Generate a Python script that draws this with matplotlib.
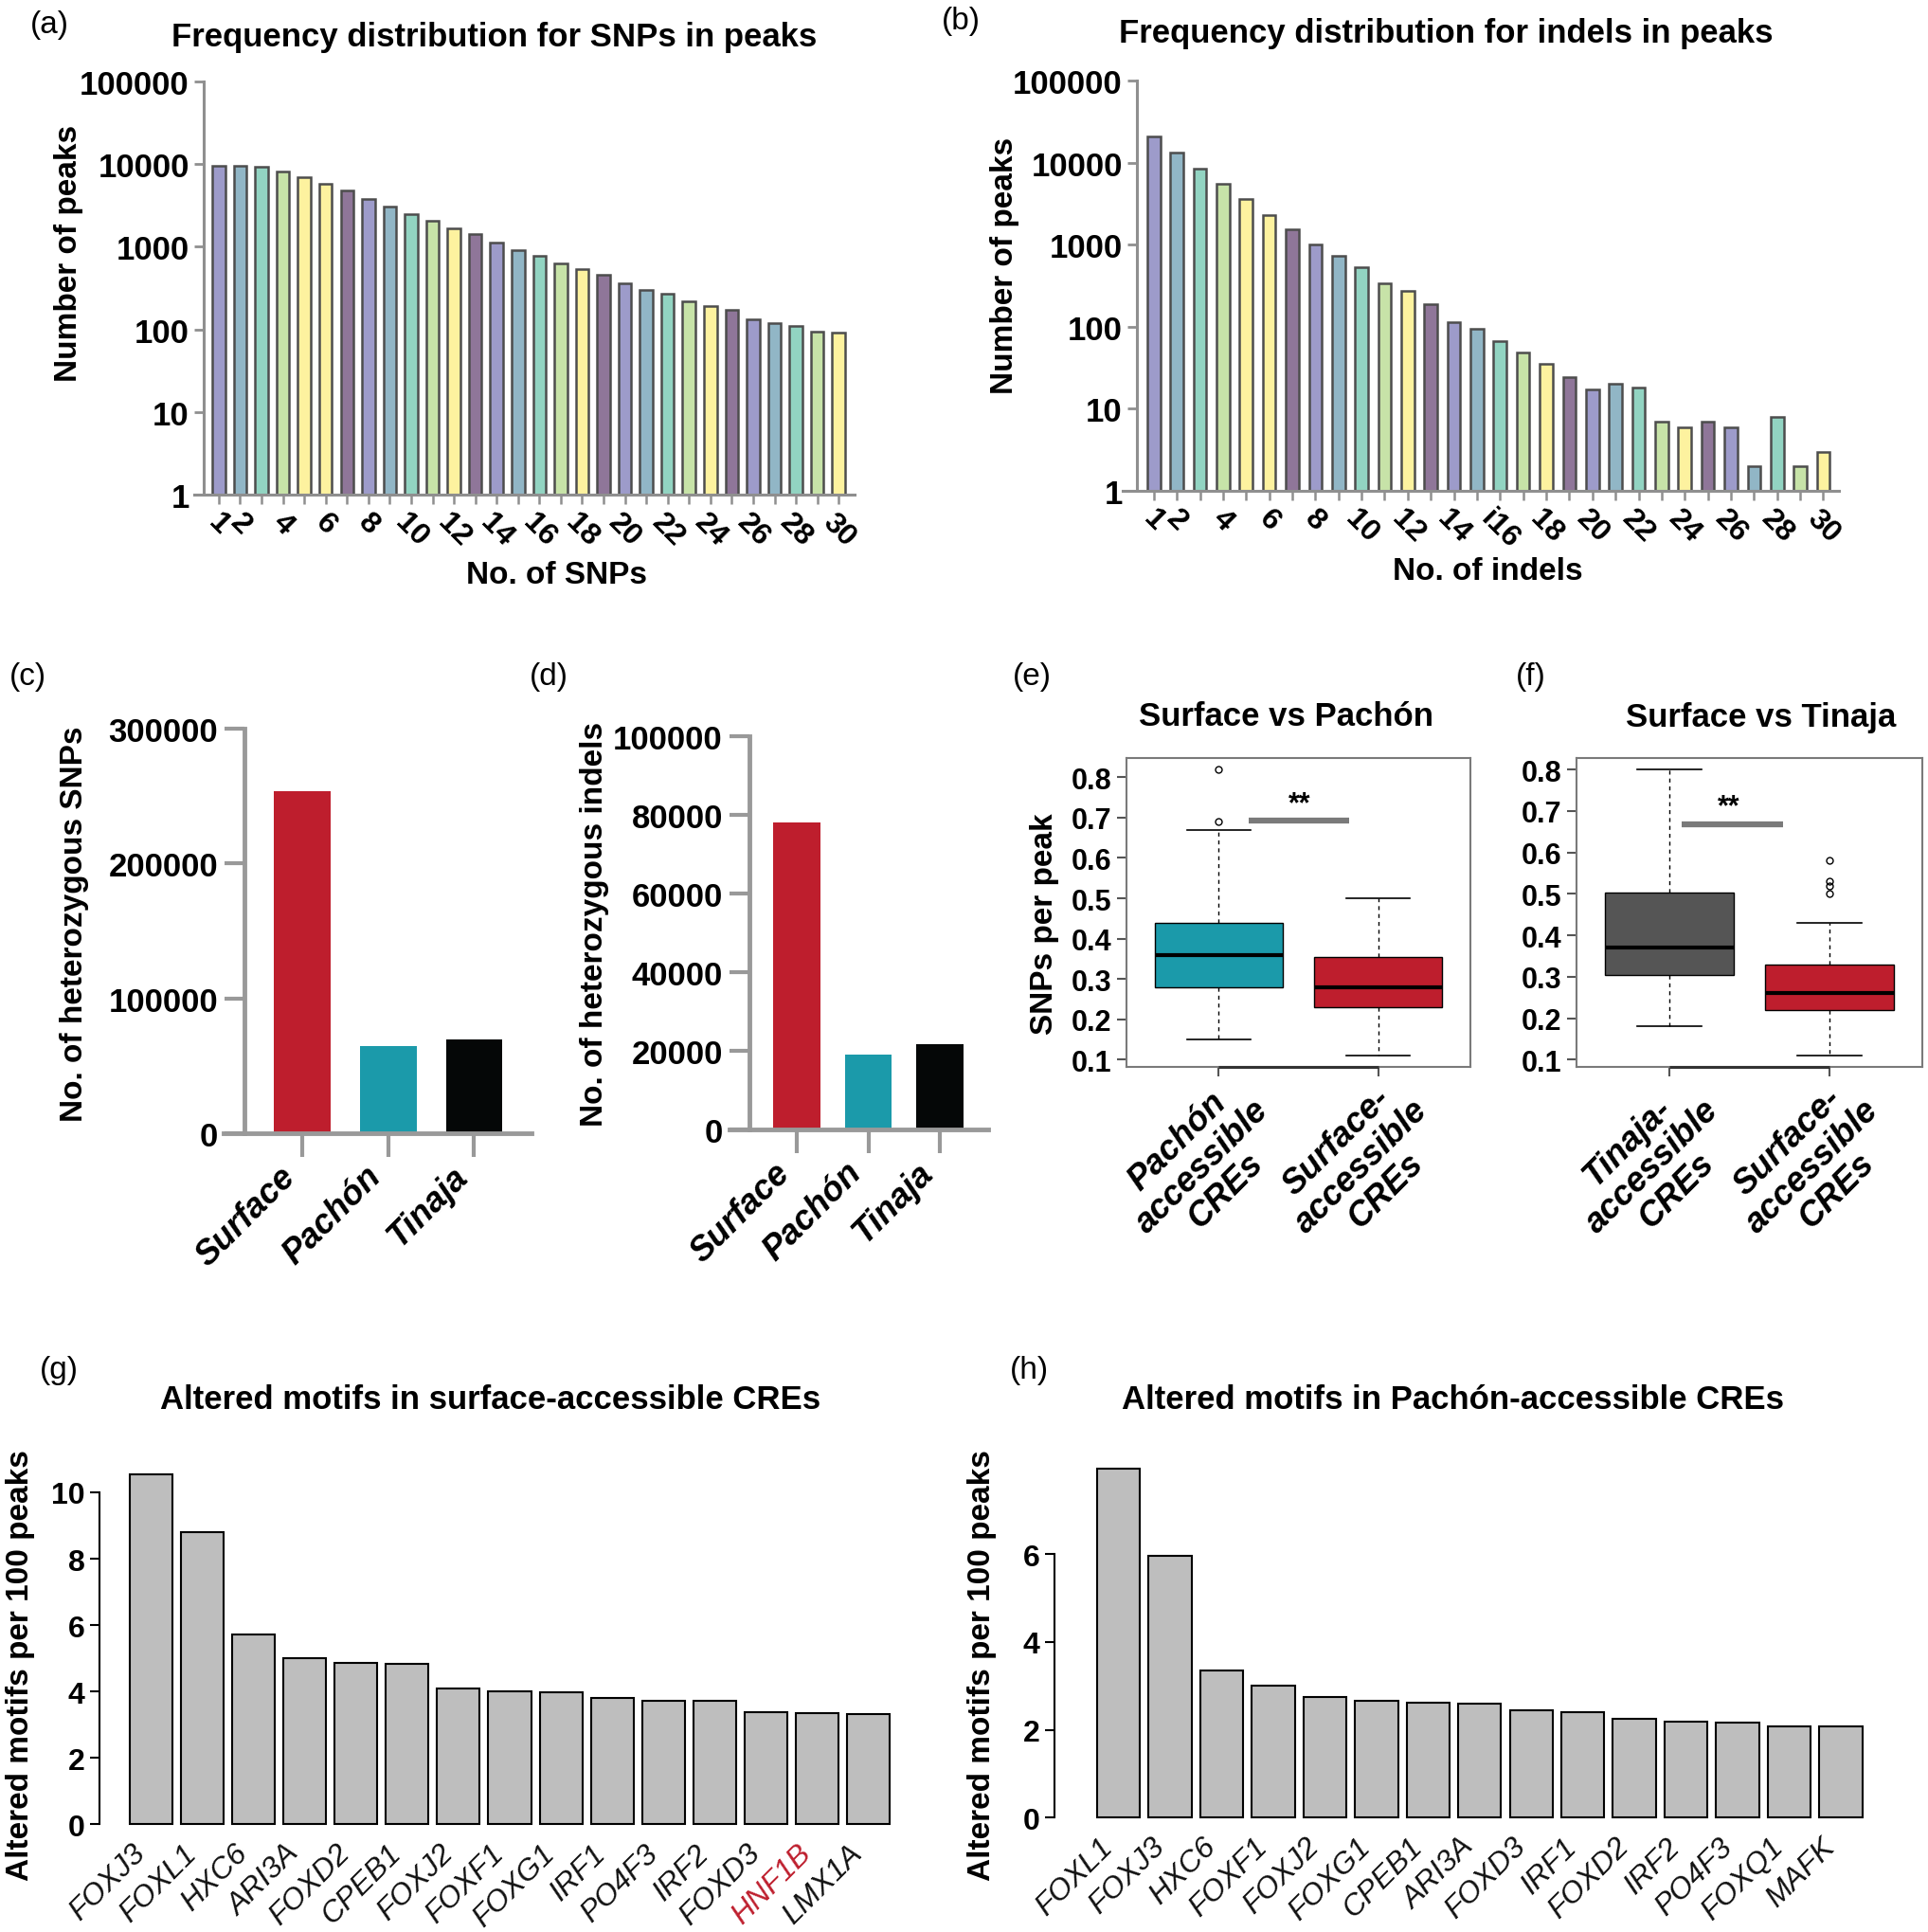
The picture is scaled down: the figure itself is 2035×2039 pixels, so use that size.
import numpy as np
import matplotlib
matplotlib.use('Agg')
import matplotlib.pyplot as plt
import matplotlib.transforms as mtransforms

# ---- data ----
snp_peaks = [9500, 9600, 9300, 8050, 7000, 5830, 4850, 3790, 3080, 2510,
             2070, 1670, 1420, 1130, 920, 785, 633, 538, 457, 357,
             297, 267, 220, 189, 171, 131, 119, 110, 94, 92]
indel_peaks = [20760, 13300, 8540, 5470, 3590, 2280, 1556, 998, 729, 532,
               341, 275, 190, 114, 95, 67, 49, 35, 24, 17,
               20, 18, 7, 6, 7, 6, 2, 8, 2, 3]
n_bins = list(range(1, 31))
snp_labels = [str(n) if (n <= 2 or n % 2 == 0) else '' for n in n_bins]
indel_labels = [('i16' if n == 16 else str(n)) if (n <= 2 or n % 2 == 0) else '' for n in n_bins]
log_ticks = [1, 10, 100, 1000, 10000, 100000]

groups = ['Surface', 'Pachón', 'Tinaja']
het_snps = [253500, 64600, 69300]
het_indels = [78000, 19150, 21800]

box_e_labels = ['Pachón\naccessible\nCREs', 'Surface-\naccessible\nCREs']
box_e = [dict(whislo=0.15, q1=0.28, med=0.36, q3=0.44, whishi=0.67, fliers=[0.69, 0.82]),
         dict(whislo=0.11, q1=0.23, med=0.28, q3=0.354, whishi=0.50, fliers=[])]
box_f_labels = ['Tinaja-\naccessible\nCREs', 'Surface-\naccessible\nCREs']
box_f = [dict(whislo=0.18, q1=0.304, med=0.37, q3=0.504, whishi=0.80, fliers=[]),
         dict(whislo=0.11, q1=0.22, med=0.26, q3=0.33, whishi=0.43,
              fliers=[0.50, 0.52, 0.53, 0.58])]

motifs_g = ['FOXJ3', 'FOXL1', 'HXC6', 'ARI3A', 'FOXD2', 'CPEB1', 'FOXJ2', 'FOXF1',
            'FOXG1', 'IRF1', 'PO4F3', 'IRF2', 'FOXD3', 'HNF1B', 'LMX1A']
values_g = [10.55, 8.81, 5.73, 5.0, 4.86, 4.84, 4.08, 4.01, 3.98, 3.81, 3.72, 3.71,
            3.38, 3.34, 3.33]
motifs_h = ['FOXL1', 'FOXJ3', 'HXC6', 'FOXF1', 'FOXJ2', 'FOXG1', 'CPEB1', 'ARI3A',
            'FOXD3', 'IRF1', 'FOXD2', 'IRF2', 'PO4F3', 'FOXQ1', 'MAFK']
values_h = [7.95, 5.95, 3.36, 3.0, 2.74, 2.66, 2.62, 2.59, 2.44, 2.39, 2.24, 2.18,
            2.17, 2.08, 2.07]

# ---- style ----
LAV, BLU, TEA, GRN, YEL, PUR = '#9d9bca', '#91b6c6', '#92d4c2', '#c7e3a8', '#fdf29f', '#8f7699'
bin_colors = [LAV, BLU, TEA, GRN, YEL, YEL, PUR] + [LAV, BLU, TEA, GRN, YEL, PUR] * 4
bin_colors = bin_colors[:25] + [LAV, BLU, TEA, GRN, YEL]
RED, TEAL, BLACK, DGRAY = '#be1e2d', '#1b9aaa', '#050707', '#555555'
AXGRAY = '#8f8f8f'

W, H = 2035, 2040
plt.rcParams['font.family'] = ['Liberation Sans', 'DejaVu Sans']


def add_axes_px(fig, left, top, right, bottom):
    return fig.add_axes([left / W, 1 - bottom / H, (right - left) / W, (bottom - top) / H])


def fig_text(fig, x, y, s, **kw):
    kw.setdefault('ha', 'center')
    kw.setdefault('va', 'center')
    fig.text(x / W, 1 - y / H, s, **kw)


def freq_panel(ax, counts, labels, width, spine_frac, xlim):
    x = np.arange(1, len(counts) + 1)
    ax.bar(x, counts, width=width, color=bin_colors, edgecolor='#4d4d4d', linewidth=1.8)
    ax.set_yscale('log')
    ax.set_ylim(1, 1e5)
    ax.set_xlim(*xlim)
    for s in ['top', 'right']:
        ax.spines[s].set_visible(False)
    ax.spines['left'].set_position(('axes', spine_frac))
    for s in ['left', 'bottom']:
        ax.spines[s].set_color(AXGRAY)
        ax.spines[s].set_linewidth(2.2)
    ax.yaxis.set_minor_locator(plt.NullLocator())
    ax.set_yticks(log_ticks)
    ax.set_yticklabels([str(t) for t in log_ticks], fontsize=25, fontweight='bold')
    ax.set_xticks(x)
    ax.set_xticklabels(labels, fontsize=23, fontweight='bold', rotation=-45,
                       ha='center', va='top')
    ax.tick_params(axis='y', length=7, width=2, color=AXGRAY, pad=4)
    ax.tick_params(axis='x', length=7, width=1.8, color=AXGRAY, pad=3)


def het_panel(ax, values, spine_frac, xlim, ylim, yticks):
    x = np.arange(len(values))
    ax.bar(x, values, width=0.66, color=[RED, TEAL, BLACK])
    ax.set_xlim(*xlim)
    ax.set_ylim(*ylim)
    for s in ['top', 'right']:
        ax.spines[s].set_visible(False)
    ax.spines['left'].set_position(('axes', spine_frac))
    for s in ['left', 'bottom']:
        ax.spines[s].set_color('#999999')
        ax.spines[s].set_linewidth(3.5)
    ax.set_yticks(yticks)
    ax.set_yticklabels([str(t) for t in yticks], fontsize=25, fontweight='bold')
    ax.set_xticks(x)
    ax.set_xticklabels(groups, fontsize=26, fontweight='bold', style='italic',
                       rotation=45, ha='right', va='top')
    ax.tick_params(axis='y', length=15, width=3, color='#999999', pad=5)
    ax.tick_params(axis='x', length=18, width=3, color='#999999', pad=2)


def box_panel(ax, stats, labels, colors, ylim, sig_y, sig_x, star_xy):
    positions = [1, 2]
    ax.bxp(stats, positions=positions, widths=0.8, patch_artist=True,
           boxprops=dict(linewidth=1.0, edgecolor='black'),
           medianprops=dict(color='black', linewidth=3),
           whiskerprops=dict(color='black', linewidth=1, linestyle=(0, (3, 3))),
           capprops=dict(color='black', linewidth=1.2),
           flierprops=dict(marker='o', markerfacecolor='none', markeredgecolor='black',
                           markersize=5, markeredgewidth=1))
    for patch, c in zip(ax.patches, colors):
        patch.set_facecolor(c)
    ax.set_xlim(0.42, 2.58)
    ax.set_ylim(*ylim)
    for s in ax.spines.values():
        s.set_color('#7a7a7a')
        s.set_linewidth(1.5)
    ax.hlines(ylim[0], positions[0], positions[-1], color='#333333', linewidth=2.2,
              clip_on=False, zorder=5)
    ax.hlines(sig_y, sig_x[0], sig_x[1], color='#7a7a7a', linewidth=4.5)
    ax.text(star_xy[0], star_xy[1], '**', ha='center', va='center', fontsize=22,
            fontweight='bold')
    yt = [0.1, 0.2, 0.3, 0.4, 0.5, 0.6, 0.7, 0.8]
    ax.set_yticks(yt)
    ax.set_yticklabels([f'{t:.1f}' for t in yt], fontsize=22, fontweight='bold')
    ax.set_xticks(positions)
    ax.set_xticklabels([])
    # rotated, centred multi-line category labels
    trans = ax.get_xaxis_transform() + mtransforms.ScaledTranslation(
        -13 / 72, -1 / 72, ax.figure.dpi_scale_trans)
    for pos, text in zip(positions, labels):
        ax.text(pos, 0, text, transform=trans, fontsize=26, fontweight='bold',
                style='italic', rotation=45, ha='center', va='top',
                multialignment='center', linespacing=1.05)
    ax.tick_params(axis='y', length=7, width=1.5, color='#555555', pad=4)
    ax.tick_params(axis='x', length=7, width=1.5, color='#555555')


def motif_panel(ax, names, values, xlim, ylim, yticks, red_name=None):
    x = 0.7 + 1.2 * np.arange(len(values))
    ax.bar(x, values, width=1.0, color='#bebebe', edgecolor='black', linewidth=1.5)
    ax.set_xlim(*xlim)
    ax.set_ylim(*ylim)
    for s in ['top', 'right', 'bottom']:
        ax.spines[s].set_visible(False)
    ax.spines['left'].set_bounds(yticks[0], yticks[-1])
    ax.spines['left'].set_linewidth(1.5)
    ax.set_yticks(yticks)
    ax.set_yticklabels([str(t) for t in yticks], fontsize=23, fontweight='bold')
    ax.set_xticks(x)
    ax.set_xticklabels(names, fontsize=23, style='italic', rotation=45, ha='right', va='top',
                       color='#111111')
    for lab in ax.get_xticklabels():
        if lab.get_text() == red_name:
            lab.set_color(RED)
    ax.tick_params(axis='y', length=7, width=1.5, pad=4)
    ax.tick_params(axis='x', length=0, pad=0.5)


fig = plt.figure(figsize=(W / 100, H / 100), dpi=100)

# (a)
ax_a = add_axes_px(fig, 205, 87, 902, 523)
freq_panel(ax_a, snp_peaks, snp_labels, 0.6, 10 / 697, (-0.148, 30.745))
# (b)
ax_b = add_axes_px(fig, 1185, 86, 1941, 519)
freq_panel(ax_b, indel_peaks, indel_labels, 0.56, 15 / 756, (-0.347, 30.68))
# (c)
ax_c = add_axes_px(fig, 236, 770, 561, 1197)
het_panel(ax_c, het_snps, 22 / 325, (-0.915, 2.667), (0, 300000), [0, 100000, 200000, 300000])
# (d)
ax_d = add_axes_px(fig, 770, 778, 1043, 1193)
het_panel(ax_d, het_indels, 20.6 / 273, (-0.94, 2.675), (0, 100000),
          [0, 20000, 40000, 60000, 80000, 100000])
# (e)
ax_e = add_axes_px(fig, 1189, 801, 1552, 1127)
box_panel(ax_e, box_e, box_e_labels, [TEAL, RED], (0.0816, 0.848), 0.693, (1.19, 1.82),
          (1.51, 0.734))
# (f)
ax_f = add_axes_px(fig, 1664, 801, 2029, 1127)
box_panel(ax_f, box_f, box_f_labels, [DGRAY, RED], (0.0824, 0.8276), 0.667, (1.075, 1.71),
          (1.37, 0.71))
# (g)
ax_g = add_axes_px(fig, 105, 1542, 971, 1941)
motif_panel(ax_g, motifs_g, values_g, (-0.512, 18.712), (-0.42, 10.97), [0, 2, 4, 6, 8, 10],
            red_name='HNF1B')
# (h)
ax_h = add_axes_px(fig, 1113, 1536, 1998, 1934)
motif_panel(ax_h, motifs_h, values_h, (-0.79, 18.712), (-0.318, 8.268), [0, 2, 4, 6])

# titles
bold = dict(fontsize=25, fontweight='bold')
fig_text(fig, 522, 39, 'Frequency distribution for SNPs in peaks', **bold)
fig_text(fig, 1526, 36, 'Frequency distribution for indels in peaks', **bold)
fig_text(fig, 1358, 757, 'Surface vs Pachón', **bold)
fig_text(fig, 1859, 757, 'Surface vs Tinaja', **bold)
fig_text(fig, 518, 1478, 'Altered motifs in surface-accessible CREs', **bold)
fig_text(fig, 1534, 1478, 'Altered motifs in Pachón-accessible CREs', **bold)

# axis labels
lab = dict(fontsize=24, fontweight='bold')
fig_text(fig, 588, 608, 'No. of SNPs', **lab)
fig_text(fig, 1570, 604, 'No. of indels', **lab)
fig_text(fig, 72, 267, 'Number of peaks', rotation=90, **lab)
fig_text(fig, 1060, 280, 'Number of peaks', rotation=90, **lab)
fig_text(fig, 78, 975, 'No. of heterozygous SNPs', rotation=90, **lab)
fig_text(fig, 627, 975, 'No. of heterozygous indels', rotation=90, **lab)
fig_text(fig, 1102, 975, 'SNPs per peak', rotation=90, **lab)
fig_text(fig, 22, 1758, 'Altered motifs per 100 peaks', rotation=90, **lab)
fig_text(fig, 1036, 1758, 'Altered motifs per 100 peaks', rotation=90, **lab)

# panel letters
for letter, (px, py) in zip('abcdefgh', [(52, 26), (1014, 23), (29, 715), (579, 715),
                                         (1089, 715), (1616, 715), (62, 1446), (1086, 1446)]):
    fig_text(fig, px, py, f'({letter})', fontsize=24)

fig.savefig('out.png', dpi=100)
